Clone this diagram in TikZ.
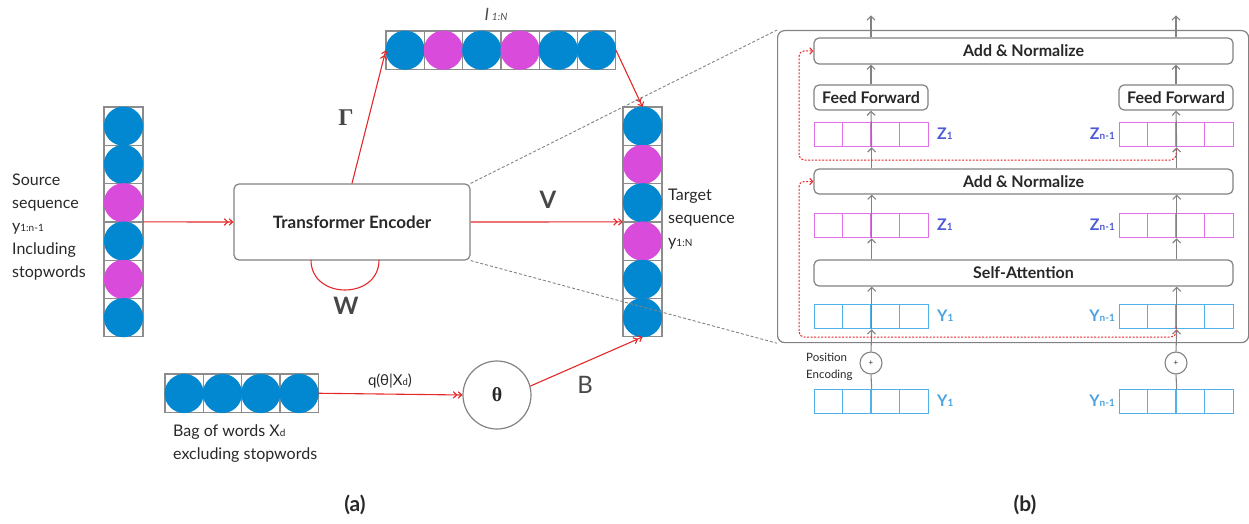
\documentclass[tikz,border=0pt]{standalone}
\usepackage{fontspec}
\setmainfont{Lato}
\newfontfamily\serifgr{Liberation Serif}
\usetikzlibrary{arrows.meta,calc}
\definecolor{cblue}{RGB}{2,136,209}
\definecolor{cmag}{RGB}{216,75,219}
\definecolor{cgrid}{RGB}{140,140,140}
\definecolor{cred}{RGB}{228,40,42}
\definecolor{zbord}{RGB}{224,112,230}
\definecolor{zlab}{RGB}{79,91,213}
\definecolor{ybord}{RGB}{79,179,234}
\definecolor{ylab}{RGB}{74,163,224}
\definecolor{cbox}{RGB}{130,130,130}
\definecolor{ctext}{RGB}{40,40,40}
\tikzset{
  redarr/.style={draw=cred, line width=1.1pt, -{Straight Barb[length=3.5pt,width=6.5pt]Straight Barb[length=3.5pt,width=6.5pt]}},
  greyarr/.style={draw=cbox, line width=1.1pt, -{Straight Barb[length=4pt,width=8pt]}},
  skiparr/.style={draw=cred, line width=1pt, dash pattern=on 2pt off 1.5pt, rounded corners=5pt, -{Straight Barb[length=3pt,width=6.5pt]}},
  zoomline/.style={draw=cbox, line width=0.9pt, dash pattern=on 3pt off 2pt},
  blk/.style={draw=cbox, line width=1.2pt, rounded corners=5pt, fill=white, text=ctext, font=\fontsize{16}{18}\selectfont\bfseries, inner sep=0pt},
  lbl/.style={inner sep=0pt, text=ctext, font=\fontsize{16}{23}\selectfont, align=left, anchor=west},
  biglbl/.style={inner sep=0pt, font=\fontsize{24}{26}\selectfont\bfseries, text=black!72},
}
% vertical column of 6 cells, center x, top y, colours
\newcommand{\vcol}[8]{%
  \foreach \c [count=\i from 0] in {#3,#4,#5,#6,#7,#8}{%
    \draw[cgrid, line width=1.2pt] (#1-19.5,#2+\i*38.3) rectangle (#1+19.5,#2+\i*38.3+38.3);
  }
  \foreach \c [count=\i from 0] in {#3,#4,#5,#6,#7,#8}{%
    \fill[\c] (#1,#2+\i*38.3+19.15) circle (19.6);
  }}
\newcommand{\rowcells}[4]{% left x, top y, colour, count
  \foreach \i in {1,...,#4}{%
    \draw[cgrid, line width=1.2pt] (#1+\i*38.3-38.3,#2) rectangle (#1+\i*38.3,#2+38.5);
  }}
\newcommand{\vecrow}[4]{% left x, top y, colour, name
  \node[draw=#3, line width=1.3pt, minimum width=114pt, minimum height=24pt, inner sep=0pt, anchor=north west] (#4) at (#1,#2) {};
  \foreach \i in {1,2,3}{\draw[#3, line width=1.3pt] (#1+\i*28.5,#2) -- (#1+\i*28.5,#2+24);}
}
\begin{document}
\begin{tikzpicture}[x=1pt,y=-1pt]
\useasboundingbox (0,0) rectangle (1249,524);

% ================= (a) =================
% source column
\vcol{123.5}{107}{cblue}{cblue}{cmag}{cblue}{cmag}{cblue}
\node[minimum width=39pt, minimum height=229.8pt, inner sep=0pt] (src) at (123.5,221.9) {};
\node[lbl, anchor=north west] (srctxt) at (12,174) {Source\\sequence\\y{\fontsize{10}{10}\selectfont 1:n-1}\\Including\\stopwords};

% Transformer encoder
\node[blk, minimum width=236pt, minimum height=76pt, font=\fontsize{17}{19}\selectfont\bfseries] (te) at (352,222) {Transformer Encoder};

% top row I
\rowcells{386}{31}{cgrid}{6}
\foreach \c [count=\i from 0] in {cblue,cmag,cblue,cmag,cblue,cblue}{\fill[\c] (386+\i*38.3+19.15,50.2) circle (19.6);}
\node[minimum width=229.8pt, minimum height=38.5pt, inner sep=0pt] (irow) at (500.9,50.25) {};
\node[inner sep=0pt, font=\fontsize{17}{17}\selectfont\itshape, text=black!70] (ilab) at (496,14) {I\,{\fontsize{10}{10}\selectfont 1:N}};

% target column
\vcol{642.5}{107}{cblue}{cmag}{cblue}{cmag}{cblue}{cblue}
\node[minimum width=39pt, minimum height=229.8pt, inner sep=0pt] (tgt) at (642.5,221.9) {};
\node[lbl, anchor=north west] (tgttxt) at (668,189) {Target\\sequence\\y{\fontsize{10}{10}\selectfont 1:N}};

% bag of words
\rowcells{165}{374}{cgrid}{4}
\foreach \i in {0,...,3}{\fill[cblue] (165+\i*38.3+19.15,393.5) circle (19.6);}
\node[minimum width=153.2pt, minimum height=38.5pt, inner sep=0pt] (bag) at (241.6,393.25) {};
\node[lbl, anchor=north west] (bagtxt) at (173,425) {Bag of words X{\fontsize{10}{10}\selectfont d}\\excluding stopwords};

% theta
\node[circle, draw=cbox, line width=1.2pt, minimum size=68pt, inner sep=0pt, text=ctext, font=\fontsize{20}{22}\selectfont\serifgr\bfseries] (theta) at (497,395) {θ};

% red connectors
\draw[redarr] (src.east) -- (te.west);
\draw[redarr] (te.north) -- (irow.west);
\draw[redarr] (irow.east) -- (tgt.north);
\draw[redarr] (te.east) -- (tgt.west);
\draw[redarr] (bag.east) -- (theta.west);
\draw[redarr] (theta.15) -- (tgt.south);
\coordinate (wl) at (311,260);
\coordinate (wr) at (379,260);
\draw[cred, line width=1.1pt] (wl) .. controls (311,300) and (379,300) .. (wr);

% labels on connectors
\node[biglbl, font=\fontsize{24}{26}\selectfont\serifgr\bfseries] (gam) at (346,118) {Γ};
\node[biglbl] (vlab) at (548,200) {V};
\node[biglbl] (wlab) at (346,306) {W};
\node[biglbl, font=\fontsize{24}{26}\selectfont] (blab) at (585,385) {B};
\node[inner sep=0pt, text=ctext, font=\fontsize{15}{17}\selectfont] (qlab) at (390,381) {q(θ|X{\fontsize{9.5}{10}\selectfont d})};

\node[inner sep=0pt, text=ctext, font=\fontsize{21}{23}\selectfont\bfseries] (alab) at (355,505) {(a)};

% ================= (b) =================
\node[draw=cbox, line width=1.2pt, rounded corners=7pt, minimum width=471pt, minimum height=312pt, inner sep=0pt, anchor=north west] (panel) at (777,30) {};
\draw[zoomline] (te.north east) -- (panel.north west);
\draw[zoomline] (te.south east) -- (panel.south west);

\node[blk, minimum width=419pt, minimum height=26pt] (an2) at (1023.5,51) {Add \& Normalize};
\node[blk, minimum width=114pt, minimum height=25pt] (ffl) at (871,97.5) {Feed Forward};
\node[blk, minimum width=114pt, minimum height=25pt] (ffr) at (1176,97.5) {Feed Forward};
\vecrow{814}{122}{zbord}{ztl}
\vecrow{1119}{122}{zbord}{ztr}
\node[blk, minimum width=419pt, minimum height=25pt] (an1) at (1023.5,181.5) {Add \& Normalize};
\vecrow{814}{213}{zbord}{zml}
\vecrow{1119}{213}{zbord}{zmr}
\node[blk, minimum width=419pt, minimum height=26pt] (sa) at (1023.5,273) {Self-Attention};
\vecrow{814}{304}{ybord}{yml}
\vecrow{1119}{304}{ybord}{ymr}
\vecrow{814}{389}{ybord}{ybl}
\vecrow{1119}{389}{ybord}{ybr}
\node[circle, draw=cbox, line width=1.1pt, minimum size=22pt, inner sep=0pt, text=ctext, font=\fontsize{8}{9}\selectfont] (pl) at (871,363) {+};
\node[circle, draw=cbox, line width=1.1pt, minimum size=22pt, inner sep=0pt, text=ctext, font=\fontsize{8}{9}\selectfont] (pr) at (1176,363) {+};
\node[lbl, font=\fontsize{11.5}{16.5}\selectfont, anchor=north west] (posenc) at (806,353) {Position\\Encoding};

% vector labels
\tikzset{zl/.style={inner sep=0pt, text=zlab, font=\fontsize{16}{17}\selectfont\bfseries},
         yl/.style={inner sep=0pt, text=ylab, font=\fontsize{16}{17}\selectfont\bfseries}}
\node[zl, anchor=west] (z1a) at (937,134) {Z{\fontsize{10}{10}\selectfont 1}};
\node[zl, anchor=east] (zna) at (1115,134) {Z{\fontsize{10}{10}\selectfont n-1}};
\node[zl, anchor=west] (z1b) at (937,225) {Z{\fontsize{10}{10}\selectfont 1}};
\node[zl, anchor=east] (znb) at (1115,225) {Z{\fontsize{10}{10}\selectfont n-1}};
\node[yl, anchor=west] (y1a) at (937,316) {Y{\fontsize{10}{10}\selectfont 1}};
\node[yl, anchor=east] (yna) at (1115,316) {Y{\fontsize{10}{10}\selectfont n-1}};
\node[yl, anchor=west] (y1b) at (937,401) {Y{\fontsize{10}{10}\selectfont 1}};
\node[yl, anchor=east] (ynb) at (1115,401) {Y{\fontsize{10}{10}\selectfont n-1}};

% grey vertical flow, both columns
\foreach \s in {l,r}{
  \draw[cbox, line width=1.1pt] (yb\s.north) -- (p\s.south);
  \draw[greyarr] (p\s.north) -- (ym\s.south);
  \draw[greyarr] (ym\s.south) -- (ym\s.south |- sa.south);
  \draw[greyarr] (ym\s.north |- sa.north) -- (zm\s.south);
  \draw[greyarr] (zm\s.south) -- (zm\s.south |- an1.south);
  \draw[greyarr] (zm\s.north |- an1.north) -- (zt\s.south);
  \draw[greyarr] (zt\s.south) -- (ff\s.south);
  \draw[greyarr] (ff\s.north) -- (ff\s.north |- an2.south);
  \coordinate (top\s) at ($(ff\s.north |- an2.north)+(0,-22)$);
  \draw[greyarr] (ff\s.north |- an2.north) -- (top\s);
}

% residual (skip) connections
\coordinate (s1) at (1176,327);
\coordinate (s2) at (1176,149);
\draw[skiparr] (s1) -- (1176,337) -- (799,337) -- (799,181.5) -- (an1.west);
\draw[skiparr] (s2) -- (1176,160) -- (799,160) -- (799,51) -- (an2.west);

\node[inner sep=0pt, text=ctext, font=\fontsize{21}{23}\selectfont\bfseries] (blabel) at (1025,505) {(b)};
\end{tikzpicture}
\end{document}
